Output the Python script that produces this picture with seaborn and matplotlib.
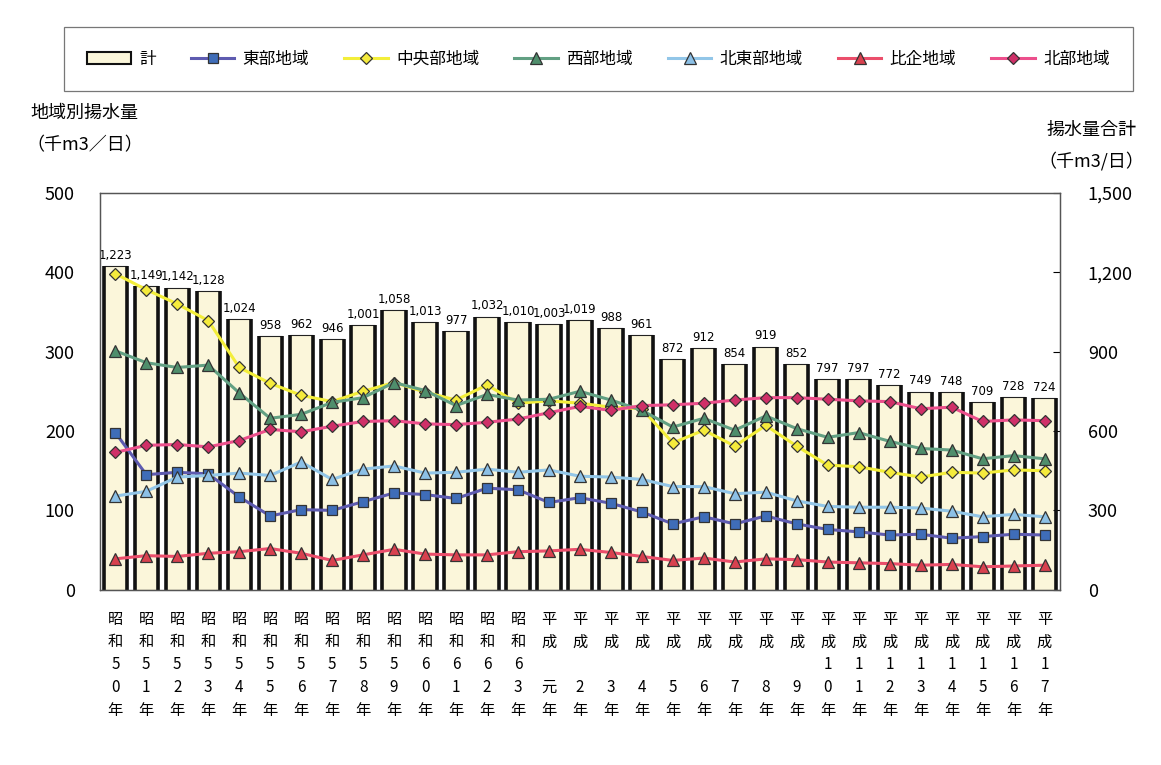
import numpy as np
import pandas as pd
import matplotlib
matplotlib.use("Agg")
import matplotlib.pyplot as plt
import seaborn as sns
from matplotlib.patches import Patch
from matplotlib.ticker import FuncFormatter

# 年度 (era + year)
eras = ["昭和"] * 14 + ["平成"] * 17
years = ["50", "51", "52", "53", "54", "55", "56", "57", "58", "59", "60", "61", "62", "63",
         "元", "2", "3", "4", "5", "6", "7", "8", "9", "10", "11", "12", "13", "14", "15", "16", "17"]

# 揚水量合計 (千m3/日)
total = [1223, 1149, 1142, 1128, 1024, 958, 962, 946, 1001, 1058, 1013, 977, 1032, 1010, 1003,
         1019, 988, 961, 872, 912, 854, 919, 852, 797, 797, 772, 749, 748, 709, 728, 724]

# 地域別揚水量 (千m3/日)
east = [198, 145, 148, 146, 117, 93, 101, 100, 111, 122, 120, 115, 128, 126, 110, 116,
        109, 98, 83, 92, 83, 93, 83, 76, 73, 69, 70, 65, 67, 70, 69]
central = [398, 378, 360, 339, 280, 260, 245, 237, 250, 261, 249, 239, 258, 235, 238, 235,
           230, 228, 185, 201, 181, 207, 181, 157, 155, 148, 142, 148, 147, 151, 150]
west = [301, 286, 280, 283, 248, 216, 221, 236, 242, 261, 251, 232, 246, 239, 240, 250,
        239, 226, 205, 216, 201, 219, 203, 192, 198, 187, 178, 176, 165, 169, 165]
northeast = [118, 124, 142, 144, 147, 144, 161, 139, 152, 156, 147, 148, 152, 148, 151, 143,
             142, 139, 130, 130, 121, 123, 112, 105, 104, 104, 103, 99, 92, 95, 92]
hiki = [39, 43, 42, 46, 48, 52, 46, 37, 44, 51, 45, 44, 44, 48, 49, 51,
        47, 42, 37, 40, 35, 39, 38, 35, 34, 33, 31, 32, 29, 30, 31]
north = [173, 182, 183, 180, 188, 202, 199, 206, 212, 213, 209, 208, 211, 215, 223, 231,
         226, 232, 233, 235, 239, 242, 242, 240, 238, 237, 228, 230, 212, 214, 213]

plt.rcParams["font.family"] = ["Noto Sans CJK JP", "DejaVu Sans"]


def stack_label(era, yr):
    top = yr[0] if len(yr) == 2 else " "
    return "\n".join(list(era) + [top, yr[-1], "年"])


labels = [stack_label(e, y) for e, y in zip(eras, years)]
pos = np.arange(len(total))
df = pd.DataFrame({"label": labels, "total": total})

fig = plt.figure(figsize=(11.61, 7.65), dpi=100)
ax = fig.add_axes([0.086, 0.229, 0.827, 0.519])
ax2 = ax.twinx()

# bars (合計) on the right axis
sns.barplot(data=df, x="label", y="total", ax=ax2, color="#FBF6DA", width=0.75,
            edgecolor="#222222", linewidth=0.8, saturation=1)
for p in ax2.patches:
    x0, w, h = p.get_x(), p.get_width(), p.get_height()
    ax2.vlines([x0, x0 + w], 0, h, color="#111111", linewidth=2.6)
ax2.bar_label(ax2.containers[0], labels=[f"{v:,}" for v in total], padding=3,
              fontsize=8.5, family="DejaVu Sans")

# regional lines on the left axis
series = [
    ("東部地域", east, "#5E5BB0", "s", "#3F6DB8", 6.5),
    ("中央部地域", central, "#F3EE3A", "D", "#F5EB3C", 6.5),
    ("西部地域", west, "#62A083", "^", "#4F8E6C", 8),
    ("北東部地域", northeast, "#92C6E8", "^", "#8CC0E6", 8),
    ("比企地域", hiki, "#EB4E6B", "^", "#D8414F", 8),
    ("北部地域", north, "#EC4F8C", "D", "#CF3068", 6.5),
]
handles = [Patch(facecolor="#FBF6DA", edgecolor="#111111", linewidth=1.5, label="計")]
for name, vals, lc, mk, fc, ms in series:
    sns.lineplot(x=pos, y=vals, ax=ax, color=lc, linewidth=2.2, marker=mk,
                 markersize=ms, markerfacecolor=fc, markeredgecolor="#333333",
                 markeredgewidth=0.9)
    handles.append(ax.lines[-1])
    handles[-1].set_label(name)
if ax.get_legend() is not None:
    ax.get_legend().remove()

ax.set_zorder(ax2.get_zorder() + 1)
ax.patch.set_visible(False)

ax.set_xlim(-0.5, len(total) - 0.5)
ax.set_ylim(0, 500)
ax.set_yticks(range(0, 501, 100))
ax2.set_ylim(0, 1500)
ax2.set_yticks(range(0, 1501, 300))
ax2.yaxis.set_major_formatter(FuncFormatter(lambda v, _: f"{int(v):,}"))
ax.set_xticks(pos)
ax.set_xticklabels(labels, fontsize=11, linespacing=1.45)
ax.set_xlabel("")
ax.set_ylabel("")
ax2.set_ylabel("")

ax.tick_params(axis="y", length=0, labelsize=13, pad=18)
ax.tick_params(axis="x", length=0, pad=15)
ax2.tick_params(axis="y", direction="in", length=5, labelsize=13, pad=20)
for a in (ax, ax2):
    for s in a.spines.values():
        s.set_color("#555555")
        s.set_linewidth(0.9)

fig.text(0.073, 0.853, "地域別揚水量", fontsize=13, ha="center", va="center")
fig.text(0.073, 0.81, "（千m3／日）", fontsize=13, ha="center", va="center")
fig.text(0.94, 0.83, "揚水量合計", fontsize=13, ha="center", va="center")
fig.text(0.94, 0.789, "（千m3/日）", fontsize=13, ha="center", va="center")

leg = fig.legend(handles=handles, labels=[h.get_label() for h in handles],
                 loc="upper left", bbox_to_anchor=(0.048, 0.885, 0.935, 0.09),
                 mode="expand", ncol=7, fontsize=12, frameon=True, fancybox=False,
                 edgecolor="#555555", handlelength=2.6, borderpad=1.4,
                 columnspacing=1.0, handletextpad=0.5)
leg.get_frame().set_linewidth(0.9)

fig.savefig("out.png", dpi=100)
